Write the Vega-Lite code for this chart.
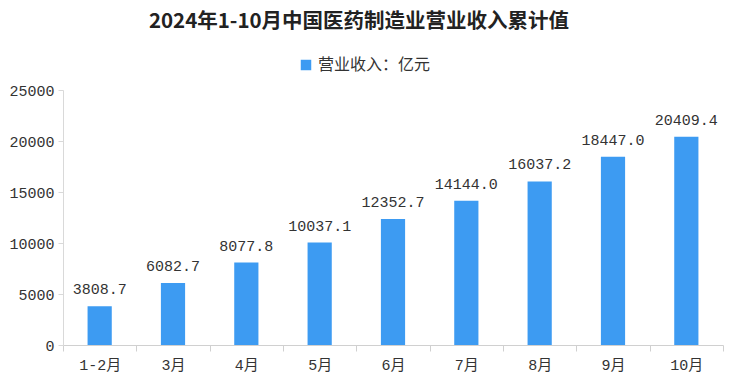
{
  "$schema": "https://vega.github.io/schema/vega-lite/v6.json",
  "autosize": {"type": "none"},
  "width": 660,
  "height": 255,
  "padding": {"left": 63, "top": 90, "right": 13, "bottom": 44},
  "background": "#ffffff",
  "title": {
    "text": "2024年1-10月中国医药制造业营业收入累计值",
    "anchor": "middle",
    "frame": "group",
    "dx": -34,
    "offset": 25,
    "fontSize": 20.5,
    "font": "Noto Sans CJK SC",
    "fontWeight": "bold",
    "color": "#222222"
  },
  "data": {
    "values": [
      {"month": "1-2月", "value": 3808.7},
      {"month": "3月", "value": 6082.7},
      {"month": "4月", "value": 8077.8},
      {"month": "5月", "value": 10037.1},
      {"month": "6月", "value": 12352.7},
      {"month": "7月", "value": 14144.0},
      {"month": "8月", "value": 16037.2},
      {"month": "9月", "value": 18447.0},
      {"month": "10月", "value": 20409.4}
    ]
  },
  "config": {
    "view": {"stroke": null},
    "font": "Noto Sans CJK SC"
  },
  "encoding": {
    "x": {
      "field": "month",
      "type": "nominal",
      "sort": null,
      "scale": {"paddingInner": 0, "paddingOuter": 0},
      "axis": {
        "title": null,
        "labelAngle": 0,
        "tickBand": "extent",
        "domainColor": "#d0d0d0",
        "tickColor": "#d0d0d0",
        "tickSize": 6,
        "labelPadding": 6,
        "labelFontSize": 15,
        "labelColor": "#333333",
        "labelFont": "Liberation Mono, Noto Sans CJK SC"
      }
    },
    "y": {
      "field": "value",
      "type": "quantitative",
      "scale": {"domain": [0, 25000], "nice": false},
      "axis": {
        "title": null,
        "grid": false,
        "values": [0, 5000, 10000, 15000, 20000, 25000],
        "format": "d",
        "domainColor": "#d9d9d9",
        "tickColor": "#d9d9d9",
        "tickSize": 5,
        "labelPadding": 4,
        "labelFontSize": 15,
        "labelColor": "#333333",
        "labelFont": "Liberation Mono"
      }
    }
  },
  "layer": [
    {
      "mark": {"type": "bar", "width": {"band": 0.33}},
      "encoding": {
        "color": {
          "datum": "营业收入：亿元",
          "type": "nominal",
          "scale": {"range": ["#3d9bf2"]},
          "legend": {
            "title": null,
            "orient": "none",
            "legendX": 235,
            "legendY": -33,
            "symbolType": "square",
            "symbolSize": 110,
            "labelFontSize": 16,
            "labelColor": "#333333",
            "labelFont": "Noto Sans CJK SC"
          }
        }
      }
    },
    {
      "mark": {"type": "text", "baseline": "bottom", "dy": -9, "fontSize": 15, "font": "Liberation Mono", "color": "#333333"},
      "encoding": {
        "text": {"field": "value", "type": "quantitative", "format": ".1f"}
      }
    }
  ]
}
